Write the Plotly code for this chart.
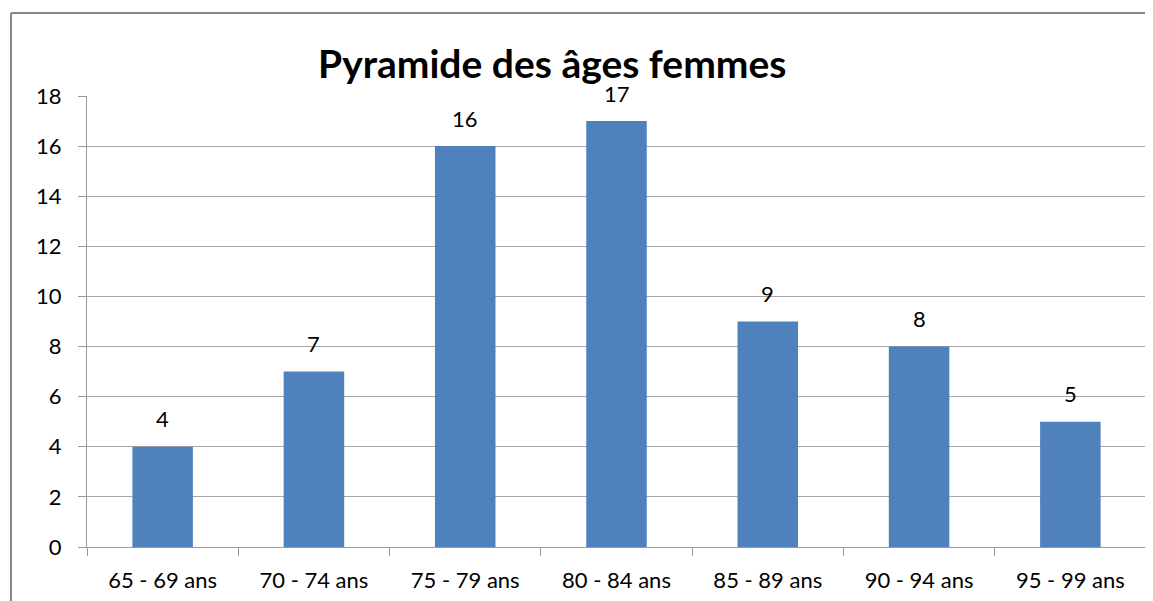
import plotly.graph_objects as go

categories = ["65 - 69 ans", "70 - 74 ans", "75 - 79 ans", "80 - 84 ans",
              "85 - 89 ans", "90 - 94 ans", "95 - 99 ans"]
values = [4, 7, 16, 17, 9, 8, 5]
y_ticks = [0, 2, 4, 6, 8, 10, 12, 14, 16, 18]

OFF = 8  # page body margin in the browser
W, H = 1153 - OFF, 601 - OFF
L, T = 87 - OFF, 96 - OFF
R = W - (1146 - OFF)
B = H - (547 - OFF)
pw = W - L - R
ph = H - T - B


def px_x(p):
    return (p - OFF - L) / pw


def px_y(p):
    return 1 - (p - OFF - T) / ph


fig = go.Figure()
fig.add_trace(go.Bar(
    x=categories, y=values,
    marker=dict(color="#4F81BD", line=dict(width=0)),
    hoverinfo="x+y",
))

annotations = [
    dict(x=c, y=v, xref="x", yref="y", text=str(v), showarrow=False,
         yanchor="middle", yshift=28,
         font=dict(family="Lato", size=22, color="#000000"))
    for c, v in zip(categories, values)
]
annotations.append(dict(
    x=px_x(552), y=px_y(63), xref="paper", yref="paper",
    text="<b>Pyramide des âges femmes</b>", showarrow=False,
    xanchor="center", yanchor="middle",
    font=dict(family="Lato", size=39, color="#000000")))

shapes = [
    dict(type="line", xref="paper", yref="paper",
         x0=px_x(11), x1=px_x(1170), y0=px_y(13), y1=px_y(13),
         line=dict(color="#888888", width=2)),
    dict(type="line", xref="paper", yref="paper",
         x0=px_x(11), x1=px_x(11), y0=px_y(13), y1=px_y(620),
         line=dict(color="#888888", width=2)),
]

fig.update_layout(
    width=W, height=H,
    margin=dict(l=L, r=R, t=T, b=B, pad=0),
    paper_bgcolor="white", plot_bgcolor="white",
    bargap=0.6,
    showlegend=False,
    annotations=annotations,
    shapes=shapes,
    font=dict(family="Lato", size=22, color="#000000"),
    xaxis=dict(
        showline=True, linecolor="#999999", linewidth=1,
        ticks="outside", ticklen=8, tickcolor="#999999",
        tickson="boundaries", showgrid=False,
        tickfont=dict(family="Lato", size=22, color="#000000"),
        ticklabelstandoff=14,
    ),
    yaxis=dict(
        range=[0, 18], tickvals=y_ticks,
        showline=True, linecolor="#999999", linewidth=1,
        ticks="outside", ticklen=8, tickcolor="#999999",
        showgrid=True, gridcolor="#A6A6A6", gridwidth=1,
        zeroline=False,
        tickfont=dict(family="Lato", size=22, color="#000000"),
        ticklabelstandoff=12,
    ),
)

fig.write_html("out.html")
